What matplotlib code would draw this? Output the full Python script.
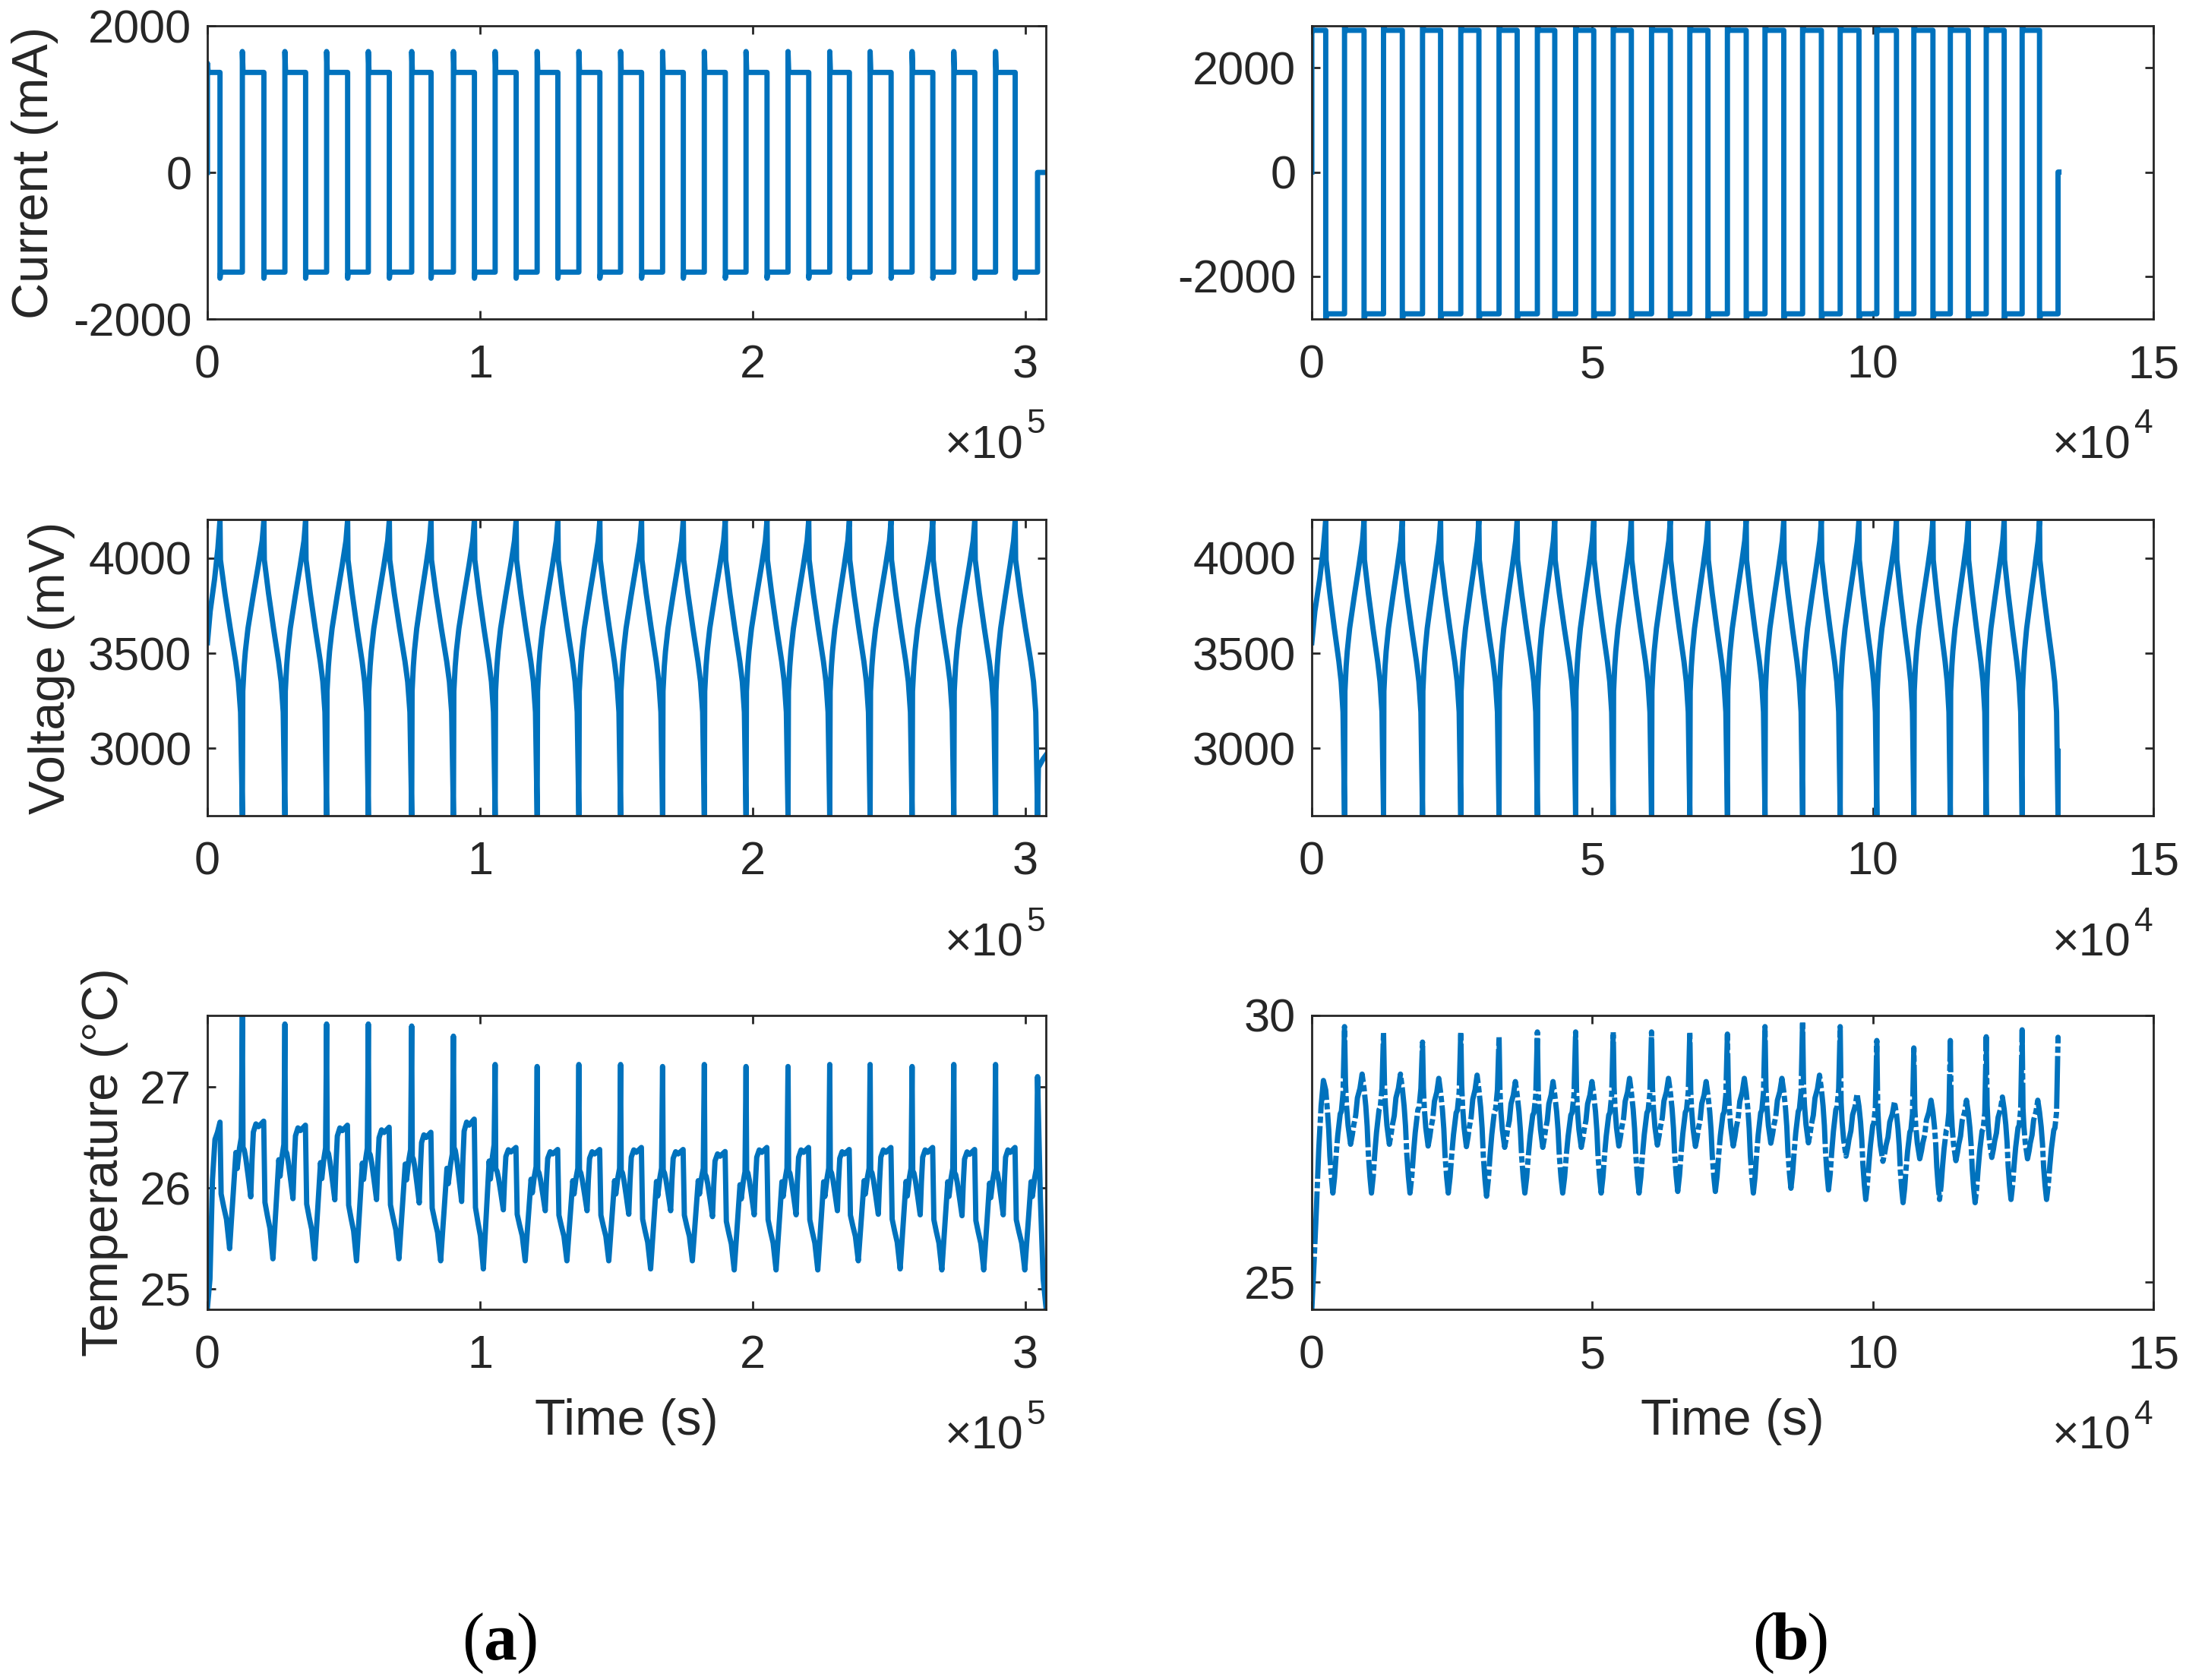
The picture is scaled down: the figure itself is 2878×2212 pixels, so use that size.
import numpy as np
import matplotlib.pyplot as plt

plt.rcParams['font.family'] = ['Liberation Sans', 'DejaVu Sans']
plt.rcParams['axes.unicode_minus'] = False

# ---------------- (a) slow cycling ----------------
# switching times in seconds: start of each discharge / start of each charge
a_discharge_start = [4600, 20700, 36000, 51400, 66700, 82000, 97900, 113200, 128500, 143900,
                     159200, 174500, 189900, 205200, 220500, 235400, 250700, 266000, 281400, 296200]
a_charge_start = [12800, 28400, 43700, 59000, 74900, 90200, 105500, 120900, 136200, 151500,
                  166900, 182200, 197500, 212900, 228200, 243000, 258400, 273700, 289000, 304400]
a_t_end = 307500

# current levels (mA)
a_current_chg = 1365
a_current_chg_spike = 1650
a_current_first_spike = 1490
a_current_dis = -1360
a_current_dis_spike = -1443

# voltage relaxation after the last discharge (mV)
a_rest_mv = [2900, 2945, 2965]

# temperature per cycle (degC): spike at end of discharge, valley, charge shoulder
a_temp_peak = [27.72, 27.62, 27.62, 27.62, 27.60, 27.50, 27.22, 27.20, 27.22, 27.22,
               27.20, 27.22, 27.20, 27.20, 27.22, 27.22, 27.20, 27.22, 27.22, 27.10]
a_temp_valley = [25.40, 25.30, 25.30, 25.28, 25.30, 25.28, 25.20, 25.28, 25.28, 25.28,
                 25.20, 25.28, 25.19, 25.19, 25.19, 25.28, 25.20, 25.19, 25.19, 25.19]
a_temp_shoulder = [26.72, 26.66, 26.62, 26.62, 26.60, 26.55, 26.68, 26.40, 26.38, 26.38,
                   26.40, 26.38, 26.36, 26.40, 26.40, 26.38, 26.40, 26.40, 26.38, 26.40]
a_temp_first = [24.82, 25.10, 26.08, 26.48, 26.55, 26.65]
a_temp_rest = [25.90, 25.10, 24.82]

# temperature shape inside a step (fraction of step, 0 = valley, 1 = shoulder)
a_tchg_frac = [0.03, 0.09, 0.16, 0.27, 0.39, 0.45, 0.51, 0.63, 0.75, 0.87, 0.99]
a_tchg_u = [0.81, 0.79, 0.73, 0.60, 0.45, 0.72, 0.92, 0.98, 0.96, 0.98, 1.0]
a_tdis_frac = [0.05, 0.17, 0.29, 0.43, 0.51, 0.59, 0.71, 0.77, 0.87, 0.95]
a_tdis_u = [0.41, 0.31, 0.22, 0.0, 0.21, 0.41, 0.72, 0.60, 0.75, 0.83]

# ---------------- (b) fast cycling ----------------
b_discharge_start = [2480, 9310, 16130, 22950, 29780, 36600, 43300, 50250, 56950, 63900,
                     70600, 77420, 84120, 90820, 97520, 104200, 110700, 117000, 123400, 129700]
b_charge_start = [5830, 12780, 19730, 26550, 33370, 40200, 47020, 53720, 60550, 67370,
                  74070, 80770, 87470, 94170, 100700, 107300, 113800, 120200, 126600, 133000]
b_t_end = 133150

b_current_chg = 2720
b_current_chg_spike = 2860
b_current_first_spike = 2760
b_current_dis = -2720
b_current_dis_spike = -2840

b_rest_mv = [2985]

b_temp_peak = [29.79, 29.69, 29.50, 29.69, 29.60, 29.69, 29.69, 29.69, 29.69, 29.69,
               29.65, 29.79, 29.89, 29.79, 29.53, 29.39, 29.53, 29.60, 29.73, 29.59]
b_temp_valley = [26.67, 26.67, 26.67, 26.67, 26.61, 26.67, 26.67, 26.67, 26.67, 26.70,
                 26.70, 26.67, 26.76, 26.73, 26.55, 26.49, 26.55, 26.49, 26.55, 26.55]
b_temp_shoulder = [28.79, 28.90, 28.90, 28.82, 28.88, 28.76, 28.76, 28.76, 28.82, 28.82,
                   28.76, 28.82, 28.82, 28.88, 28.53, 28.38, 28.41, 28.41, 28.47, 28.41]
b_temp_first = [24.49, 25.40, 26.40, 27.50, 28.30, 28.78, 28.60]
b_temp_rest = [29.50]

b_tchg_frac = [0.05, 0.10, 0.18, 0.31, 0.40, 0.47, 0.57, 0.66, 0.79, 0.90, 1.0]
b_tchg_u = [0.92, 0.74, 0.57, 0.41, 0.49, 0.57, 0.65, 0.80, 0.88, 1.0, 0.88]
b_tdis_frac = [0.09, 0.16, 0.22, 0.30, 0.38, 0.47, 0.55, 0.64, 0.70, 0.77, 0.83, 0.92]
b_tdis_u = [0.73, 0.56, 0.33, 0.14, 0.0, 0.14, 0.33, 0.51, 0.60, 0.70, 0.72, 0.88]

# voltage shape inside one charge / discharge step (fraction of step, mV)
chg_frac = [0.0, 0.02, 0.083, 0.14, 0.26, 0.50, 0.74, 0.92, 1.0]
chg_mv = [2650, 3300, 3430, 3510, 3630, 3800, 3960, 4090, 4200]
dis_frac = [0.0, 0.02, 0.22, 0.46, 0.70, 0.82, 0.92, 0.96, 1.0]
dis_mv = [4200, 3990, 3814, 3629, 3456, 3350, 3190, 2930, 2650]
first_chg_frac = [0.0, 0.22, 0.57, 0.83, 1.0]
first_chg_mv = [3555, 3720, 3890, 4050, 4200]

BLUE = '#0072BD'
DARK = '#262626'
LW = 5
SPIKE = 250  # seconds the current overshoot lasts


def build_current(t_dis, t_chg, t_end, i_chg, i_chg_spike, i_first, i_dis, i_dis_spike):
    t = [0, 0, SPIKE]
    i = [0, i_first, i_chg]
    for k in range(len(t_dis)):
        td, tc = t_dis[k], t_chg[k]
        t += [td, td, td + SPIKE, tc]
        i += [i_chg, i_dis_spike, i_dis, i_dis]
        if k < len(t_dis) - 1:
            t += [tc, tc + SPIKE]
            i += [i_chg_spike, i_chg]
    t += [t_chg[-1], t_end]
    i += [0, 0]
    return np.array(t), np.array(i)


def build_voltage(t_dis, t_chg, t_end, rest_mv):
    t = list(np.array(first_chg_frac) * t_dis[0])
    v = list(first_chg_mv)
    for k in range(len(t_dis)):
        if k > 0:
            t0, t1 = t_chg[k - 1], t_dis[k]
            t += list(t0 + np.array(chg_frac) * (t1 - t0))
            v += chg_mv
        t0, t1 = t_dis[k], t_chg[k]
        t += list(t0 + np.array(dis_frac) * (t1 - t0))
        v += dis_mv
    t0 = t_chg[-1]
    rest_frac = np.linspace(0, 1, len(rest_mv) + 1)[1:]
    rest_frac[0] = min(rest_frac[0], 0.1)
    t += list(t0 + rest_frac * (t_end - t0))
    v += rest_mv
    return np.array(t), np.array(v)


def build_temperature(t_dis, t_chg, t_end, first_vals, peak, valley, shoulder,
                      tchg_frac, tchg_u, tdis_frac, tdis_u, rest_vals):
    first_frac = np.linspace(0, 1, len(first_vals))
    t = list(first_frac * t_dis[0])
    y = list(first_vals)
    for k in range(len(t_dis)):
        lo, hi = valley[k], shoulder[k]
        if k > 0:
            t0, t1 = t_chg[k - 1], t_dis[k]
            t += list(t0 + np.array(tchg_frac) * (t1 - t0))
            y += list(lo + np.array(tchg_u) * (hi - lo))
        t0, t1 = t_dis[k], t_chg[k]
        t += list(t0 + np.array(tdis_frac) * (t1 - t0))
        y += list(lo + np.array(tdis_u) * (hi - lo))
        t.append(t1)
        y.append(peak[k])
    t0 = t_chg[-1]
    rest_frac = np.linspace(0, 1, len(rest_vals) + 1)[1:]
    t += list(t0 + rest_frac * (t_end - t0))
    y += rest_vals
    return np.array(t), np.array(y)


def style(ax, xlim, xticks, xlabels, ylim, yticks, exponent):
    ax.set_xlim(xlim)
    ax.set_ylim(ylim)
    ax.set_xticks(xticks)
    ax.set_xticklabels(xlabels)
    ax.set_yticks(yticks)
    ax.set_yticklabels([str(v) for v in yticks])
    ax.tick_params(direction='in', length=8, width=2, top=True, right=True,
                   labelsize=44, colors=DARK)
    ax.tick_params(axis='x', pad=24)
    ax.tick_params(axis='y', pad=15)
    for s in ax.spines.values():
        s.set_linewidth(2)
        s.set_color(DARK)
    # MATLAB-style exponent below the right end of the x axis
    ax.text(0.973, -0.474, '\u00d710', transform=ax.transAxes,
            ha='right', va='baseline', fontsize=44, color=DARK)
    ax.text(0.977, -0.389, str(exponent), transform=ax.transAxes,
            ha='left', va='baseline', fontsize=32, color=DARK)


fig = plt.figure(figsize=(28.78, 22.12), dpi=100)

rows = [0.8101, 0.5145, 0.2206]
heights = [0.1745, 0.1763, 0.175]
left_x, left_w = 0.0949, 0.3836
right_x, right_w = 0.6001, 0.385

# ---- column (a) ----
ax = fig.add_axes([left_x, rows[0], left_w, heights[0]])
t, i = build_current(a_discharge_start, a_charge_start, a_t_end, a_current_chg,
                     a_current_chg_spike, a_current_first_spike, a_current_dis, a_current_dis_spike)
ax.plot(t, i, color=BLUE, lw=LW)
style(ax, (0, a_t_end), [0, 1e5, 2e5, 3e5], ['0', '1', '2', '3'], (-2000, 2000), [-2000, 0, 2000], 5)
ax.set_ylabel('Current (mA)', fontsize=48, color=DARK)
ax.yaxis.set_label_coords(-0.2056, 0.5)
ax.yaxis.label.set_va('center')

ax = fig.add_axes([left_x, rows[1], left_w, heights[1]])
t, v = build_voltage(a_discharge_start, a_charge_start, a_t_end, a_rest_mv)
ax.plot(t, v, color=BLUE, lw=LW)
style(ax, (0, a_t_end), [0, 1e5, 2e5, 3e5], ['0', '1', '2', '3'], (2647, 4202), [3000, 3500, 4000], 5)
ax.set_ylabel('Voltage (mV)', fontsize=48, color=DARK)
ax.yaxis.set_label_coords(-0.1857, 0.5)
ax.yaxis.label.set_va('center')

ax = fig.add_axes([left_x, rows[2], left_w, heights[2]])
t, y = build_temperature(a_discharge_start, a_charge_start, a_t_end, a_temp_first,
                         a_temp_peak, a_temp_valley, a_temp_shoulder,
                         a_tchg_frac, a_tchg_u, a_tdis_frac, a_tdis_u, a_temp_rest)
ax.plot(t, y, color=BLUE, lw=LW)
style(ax, (0, a_t_end), [0, 1e5, 2e5, 3e5], ['0', '1', '2', '3'], (24.80, 27.705), [25, 26, 27], 5)
ax.set_ylabel('Temperature (°C)', fontsize=48, color=DARK)
ax.yaxis.set_label_coords(-0.1223, 0.5)
ax.yaxis.label.set_va('center')
ax.set_xlabel('Time (s)', fontsize=48, color=DARK)
ax.xaxis.set_label_coords(0.5, -0.382)
ax.xaxis.label.set_va('center')

# ---- column (b) ----
xt_b = [0, 5e4, 10e4, 15e4]
xl_b = ['0', '5', '10', '15']

ax = fig.add_axes([right_x, rows[0], right_w, heights[0]])
t, i = build_current(b_discharge_start, b_charge_start, b_t_end, b_current_chg,
                     b_current_chg_spike, b_current_first_spike, b_current_dis, b_current_dis_spike)
ax.plot(t, i, color=BLUE, lw=LW)
style(ax, (0, 15e4), xt_b, xl_b, (-2820, 2805), [-2000, 0, 2000], 4)

ax = fig.add_axes([right_x, rows[1], right_w, heights[1]])
t, v = build_voltage(b_discharge_start, b_charge_start, b_t_end, b_rest_mv)
ax.plot(t, v, color=BLUE, lw=LW)
style(ax, (0, 15e4), xt_b, xl_b, (2647, 4202), [3000, 3500, 4000], 4)

ax = fig.add_axes([right_x, rows[2], right_w, heights[2]])
t, y = build_temperature(b_discharge_start, b_charge_start, b_charge_start[-1], b_temp_first,
                         b_temp_peak, b_temp_valley, b_temp_shoulder,
                         b_tchg_frac, b_tchg_u, b_tdis_frac, b_tdis_u, b_temp_rest)
ax.plot(t, y, color=BLUE, lw=LW, linestyle=(0, (10, 0.6, 1.2, 0.6)))
style(ax, (0, 15e4), xt_b, xl_b, (24.49, 30.0), [25, 30], 4)
ax.set_xlabel('Time (s)', fontsize=48, color=DARK)
ax.xaxis.set_label_coords(0.5, -0.382)
ax.xaxis.label.set_va('center')

# sub-figure captions
for cx, letter in [(658, 'a'), (2357, 'b')]:
    fx = cx / 2878
    fy = 1 - 2185 / 2212
    fig.text(fx, fy, letter, ha='center', va='baseline', fontsize=63,
             family='Liberation Serif', weight='bold', color='black')
    fig.text(fx - 21 / 2878, fy, '(', ha='right', va='baseline', fontsize=63,
             family='Liberation Serif', color='black')
    fig.text(fx + 21 / 2878, fy, ')', ha='left', va='baseline', fontsize=63,
             family='Liberation Serif', color='black')

fig.savefig('out.png', dpi=100, facecolor='white')
